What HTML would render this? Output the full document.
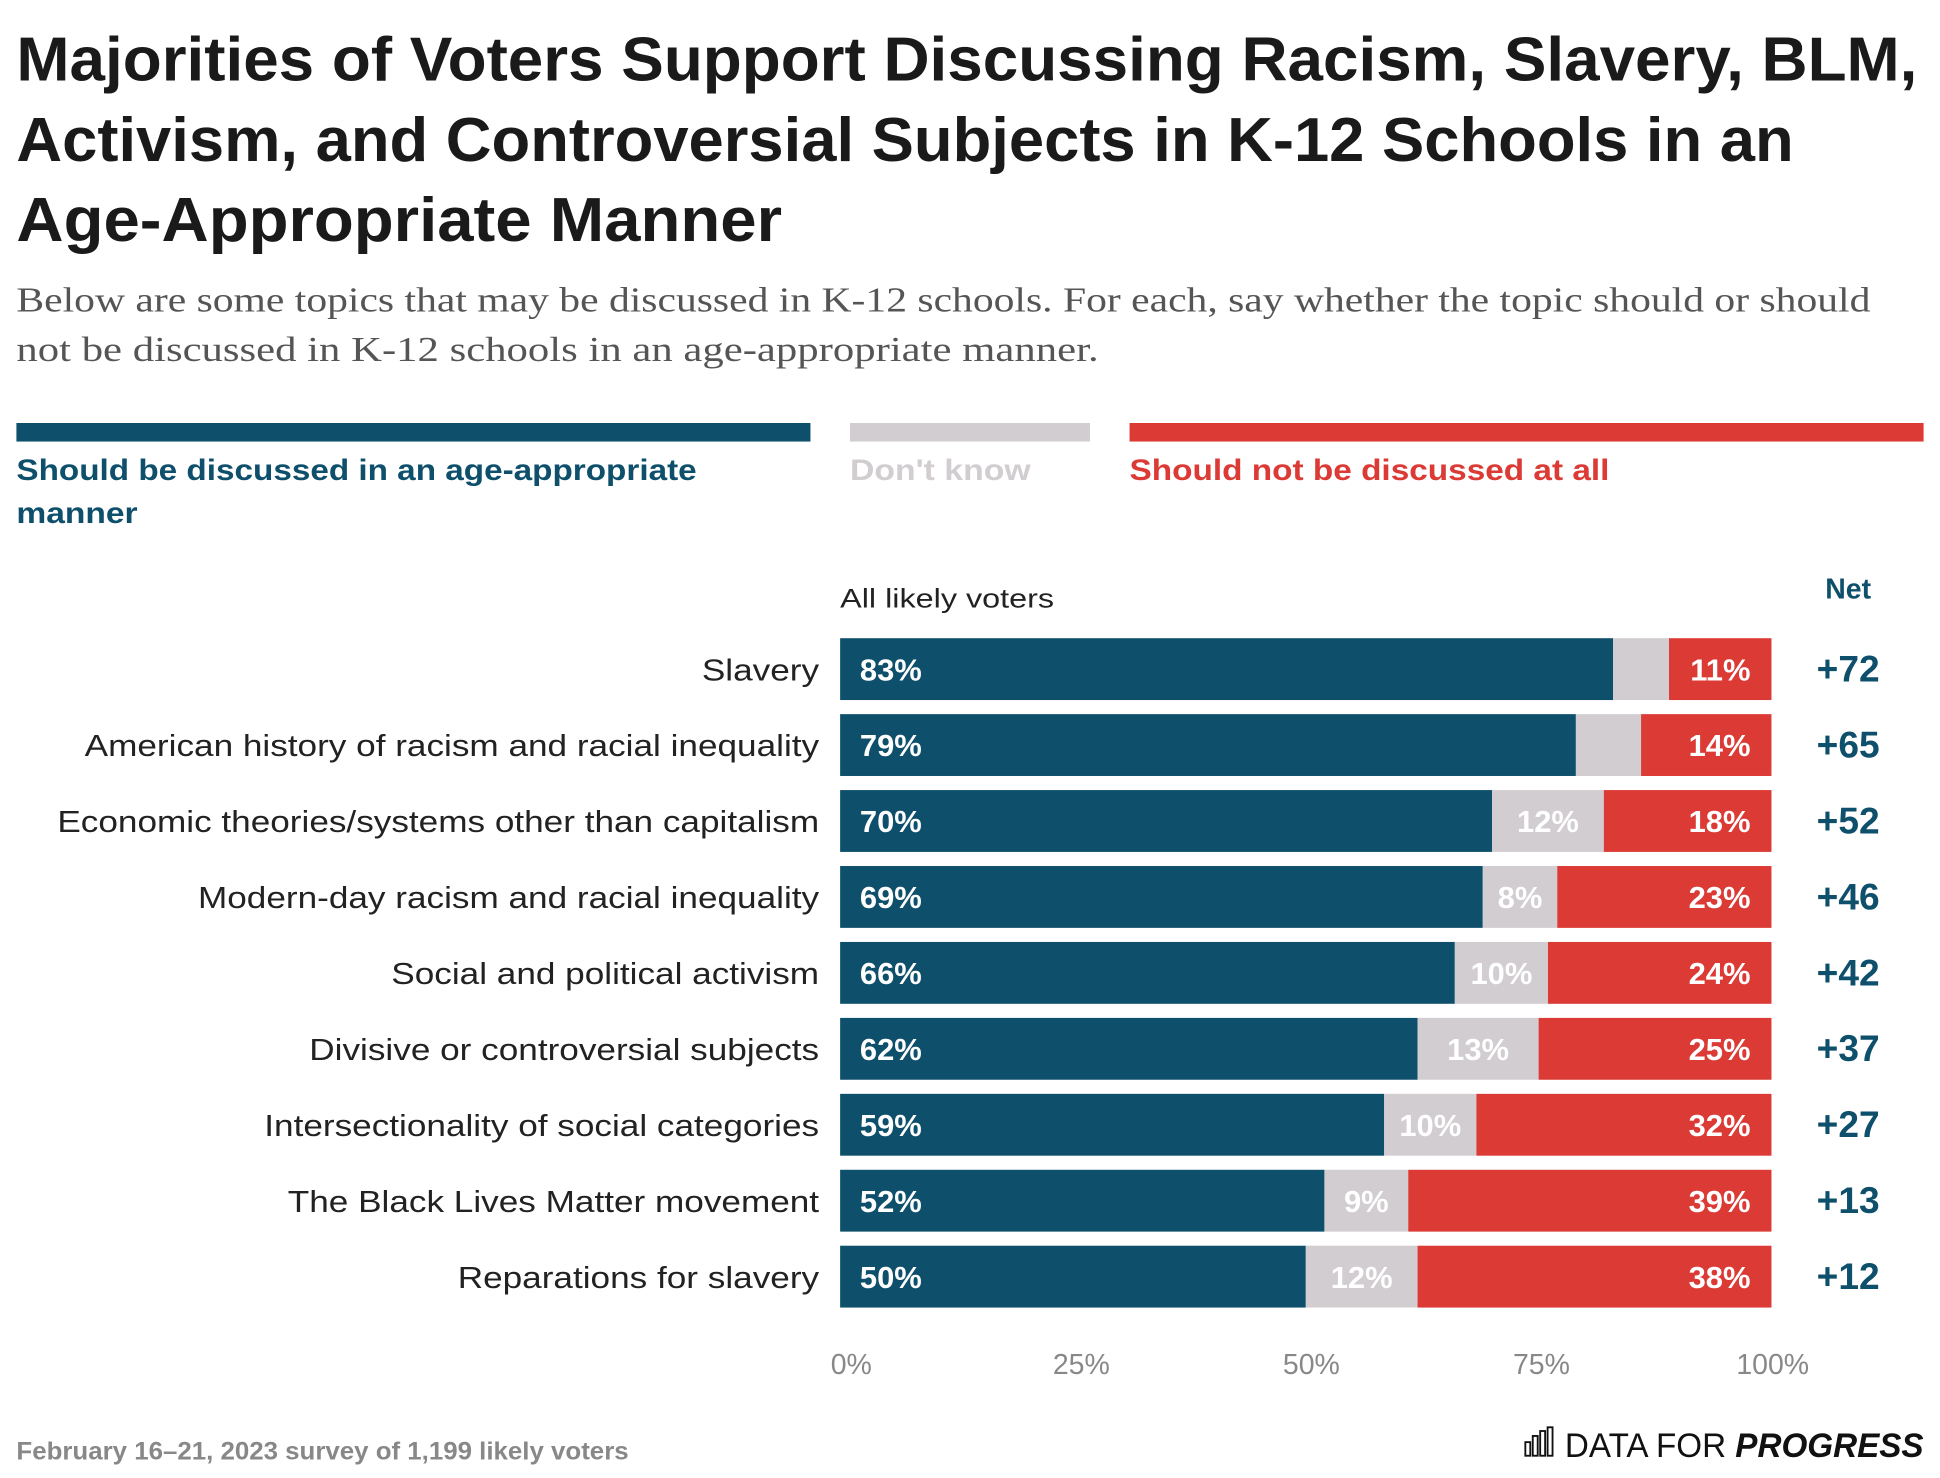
<!DOCTYPE html>
<html><head><meta charset="utf-8"><style>
html,body{margin:0;padding:0;background:#fff;}
svg{display:block;}
</style></head><body>
<svg id="chart" width="1940" height="1478" viewBox="0 0 1568 1195" xmlns="http://www.w3.org/2000/svg" font-family="Liberation Sans, sans-serif">
<g font-weight="bold" font-size="50" fill="#1a1a1a">
<text x="13" y="65" textLength="1537" lengthAdjust="spacingAndGlyphs">Majorities of Voters Support Discussing Racism, Slavery, BLM,</text>
<text x="13" y="130" textLength="1437" lengthAdjust="spacingAndGlyphs">Activism, and Controversial Subjects in K-12 Schools in an</text>
<text x="13" y="195" textLength="619" lengthAdjust="spacingAndGlyphs">Age-Appropriate Manner</text>
</g>
<g font-family="Liberation Serif, serif" font-size="28" fill="#555">
<text x="13" y="252" textLength="1499" lengthAdjust="spacingAndGlyphs">Below are some topics that may be discussed in K-12 schools. For each, say whether the topic should or should</text>
<text x="13" y="292" textLength="875" lengthAdjust="spacingAndGlyphs">not be discussed in K-12 schools in an age-appropriate manner.</text>
</g>
<g font-size="24" font-weight="bold">
<rect x="13" y="342" width="642" height="15" fill="#0e4f6b"/>
<rect x="687" y="342" width="194" height="15" fill="#d1cdd0"/>
<rect x="913" y="342" width="642" height="15" fill="#db3a35"/>
<text fill="#0e4f6b"><tspan x="13" y="388" textLength="550" lengthAdjust="spacingAndGlyphs">Should be discussed in an age-appropriate</tspan><tspan x="13" y="423" textLength="98" lengthAdjust="spacingAndGlyphs">manner</tspan></text>
<text x="687" y="388" fill="#d1cdd0" textLength="146" lengthAdjust="spacingAndGlyphs">Don't know</text>
<text x="913" y="388" fill="#db3a35" textLength="388" lengthAdjust="spacingAndGlyphs">Should not be discussed at all</text>
</g>
<text x="679" y="491" font-size="22" fill="#222" textLength="173" lengthAdjust="spacingAndGlyphs">All likely voters</text>
<text x="1494" y="484" font-size="23" font-weight="bold" fill="#0e4f6b" text-anchor="middle">Net</text>
<g id="bars"></g>
<g id="axis"></g>
<text x="13" y="1180" font-size="20" font-weight="bold" fill="#888" textLength="495" lengthAdjust="spacingAndGlyphs">February 16–21, 2023 survey of 1,199 likely voters</text>
<g>
<g fill="none" stroke="#111" stroke-width="1.5">
<rect x="1233" y="1166" width="4" height="11"/><rect x="1239" y="1161" width="4" height="16"/><rect x="1245" y="1157" width="4" height="20"/><rect x="1251" y="1154" width="4" height="23"/>
</g>
<text x="1555" y="1178" font-size="28" text-anchor="end" fill="#111" textLength="290" lengthAdjust="spacingAndGlyphs"><tspan>DATA FOR </tspan><tspan font-weight="bold" font-style="italic">PROGRESS</tspan></text>
</g>
</svg>
<script>
const categories = ["Slavery","American history of racism and racial inequality","Economic theories/systems other than capitalism","Modern-day racism and racial inequality","Social and political activism","Divisive or controversial subjects","Intersectionality of social categories","The Black Lives Matter movement","Reparations for slavery"];
const discussed = [83,79,70,69,66,62,59,52,50];
const dontKnow = [6,7,12,8,10,13,10,9,12];
const notDiscussed = [11,14,18,23,24,25,32,39,38];
const tickValues = [0,25,50,75,100];

const NS = "http://www.w3.org/2000/svg";
const X0 = 679, W = 753, Y0 = 516, STEP = 61.4, BH = 50;
const xScale = p => X0 + W * p / 100;
const yScale = i => Y0 + STEP * i;
function mk(tag, attrs, parent, text) {
  const e = document.createElementNS(NS, tag);
  for (const k in attrs) e.setAttribute(k, attrs[k]);
  if (text !== undefined) e.textContent = text;
  parent.appendChild(e);
  return e;
}
const bars = document.getElementById('bars');
categories.forEach((c, i) => {
  const y = yScale(i), cy = y + BH / 2 + 9;
  const tot = discussed[i] + dontKnow[i] + notDiscussed[i];
  const a = discussed[i] / tot * 100, b = dontKnow[i] / tot * 100;
  const lab = mk('text', {x: 662, y: cy, 'font-size': 24.5, fill: '#222', 'text-anchor': 'end'}, bars, c);
  
  
  const len = lab.getComputedTextLength();
  if (len > 0) {
    lab.setAttribute('textLength', (len * 1.16).toFixed(1));
    lab.setAttribute('lengthAdjust', 'spacingAndGlyphs');
  }
  const r1 = mk('rect', {x: xScale(0), y: y, width: xScale(a) - xScale(0), height: BH, fill: '#0e4f6b'}, bars);
  
  
  const r2 = mk('rect', {x: xScale(a), y: y, width: xScale(a + b) - xScale(a), height: BH, fill: '#d1cdd0'}, bars);
  
  
  const r3 = mk('rect', {x: xScale(a + b), y: y, width: xScale(100) - xScale(a + b), height: BH, fill: '#db3a35'}, bars);
  
  
  const t1 = mk('text', {x: 695, y: cy, 'font-size': 25, 'font-weight': 'bold', fill: '#fff'}, bars, discussed[i] + '%');
  
  
  if (dontKnow[i] >= 8) {
    const t2 = mk('text', {x: (xScale(a) + xScale(a + b)) / 2, y: cy, 'font-size': 25, 'font-weight': 'bold', fill: '#fff', 'text-anchor': 'middle'}, bars, dontKnow[i] + '%');
    
    
  }
  const t3 = mk('text', {x: 1415, y: cy, 'font-size': 25, 'font-weight': 'bold', fill: '#fff', 'text-anchor': 'end'}, bars, notDiscussed[i] + '%');
  
  
  const net = discussed[i] - notDiscussed[i];
  const t4 = mk('text', {x: 1494, y: cy + 1, 'font-size': 30, 'font-weight': 'bold', fill: '#0e4f6b', 'text-anchor': 'middle'}, bars, (net >= 0 ? '+' : '') + net);
  
  
});
const axis = document.getElementById('axis');
tickValues.forEach(t => {
  const tl = mk('text', {x: xScale(t) + 9 * (1 - t / 100) + (t === 100 ? 1 : 0), y: 1111, 'font-size': 23, fill: '#888', 'text-anchor': 'middle'}, axis, t + '%');
  
  
});
</script>
</body></html>
